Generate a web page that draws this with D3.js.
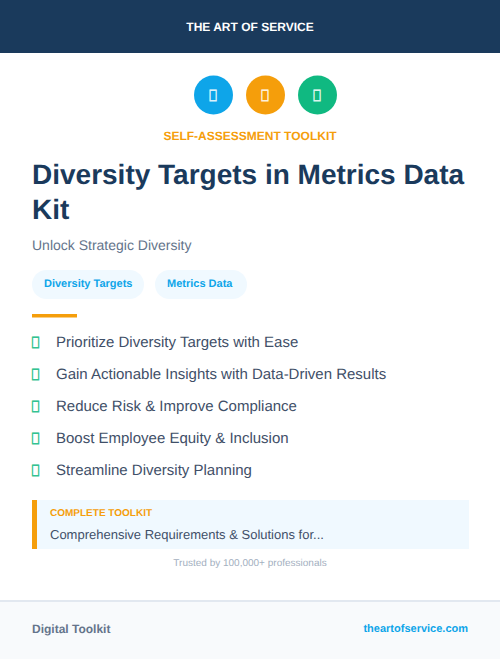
<!DOCTYPE html>
<html><head><meta charset="utf-8">
<script src="https://cdnjs.cloudflare.com/ajax/libs/d3/7.8.5/d3.min.js"></script>
<style>html,body{margin:0;padding:0;background:#fff}svg{display:block}text{font-family:"Liberation Sans",sans-serif;text-rendering:geometricPrecision}</style>
</head><body><div id="c"></div>
<script>
const brand="THE ART OF SERVICE";
const iconColors=["#0ea5e9","#f59e0b","#10b981"];
const iconGlyphs=["\uE123","\uE123","\uE123"];
const kicker="SELF-ASSESSMENT TOOLKIT";
const titleLines=["Diversity Targets in Metrics Data","Kit"];
const subtitle="Unlock Strategic Diversity";
const tags=["Diversity Targets","Metrics Data"];
const tagWidths=[112,92];
const bullets=["Prioritize Diversity Targets with Ease","Gain Actionable Insights with Data-Driven Results","Reduce Risk & Improve Compliance","Boost Employee Equity & Inclusion","Streamline Diversity Planning"];
const svg=d3.select("#c").append("svg").attr("width",500).attr("height",659);
const T=(x,y,s,size,fill,weight,anchor)=>svg.append("text").attr("x",x).attr("y",y).text(s).attr("font-size",size).attr("fill",fill).attr("font-weight",weight||400).attr("text-anchor",anchor||"start");
const R=(x,y,w,h,fill,r)=>svg.append("rect").attr("x",x).attr("y",y).attr("width",w).attr("height",h).attr("fill",fill).attr("rx",r||0);
R(0,0,500,53,"#1a3a5c");
T(250,31,brand,12,"#fff",700,"middle");
const ix=d3.scalePoint().domain(d3.range(3)).range([213.5,317.5]);
svg.selectAll(".ic").data(iconColors).join("circle").attr("cx",(d,i)=>ix(i)).attr("cy",95).attr("r",19.5).attr("fill",d=>d);
svg.selectAll(".ig").data(iconGlyphs).join("text").attr("transform",(d,i)=>`translate(${ix(i)-0.5},100.5) scale(0.8,1.08)`).attr("text-anchor","middle").attr("font-size",15).attr("fill","#fff").attr("stroke","#fff").attr("stroke-width",0.8).attr("opacity",0.85).text(d=>d);
T(250,140,kicker,12,"#f59e0b",700,"middle");
svg.selectAll(".tl").data(titleLines).join("text").attr("x",32).attr("y",(d,i)=>184+i*35).attr("font-size",28).attr("font-weight",700).attr("fill","#1a3a5c").text(d=>d);
T(32,250,subtitle,14,"#64748b");
let tx=32;
tags.forEach((t,i)=>{R(tx,270,tagWidths[i],29,"#f0f9ff",14.5);T(tx+12,287,t,11,"#0ea5e9",700);tx+=tagWidths[i]+11;});
R(32,314,45,3.5,"#f59e0b");
const by=d3.scaleLinear().domain([0,4]).range([347,475]);
svg.selectAll(".bg").data(bullets).join("text").attr("transform",(d,i)=>`translate(31,${by(i)+0.5}) scale(0.8,1.08)`).attr("font-size",15).attr("fill","#10b981").attr("stroke","#10b981").attr("stroke-width",0.8).attr("opacity",0.85).text("\uE123");
svg.selectAll(".bt").data(bullets).join("text").attr("x",56).attr("y",(d,i)=>by(i)).attr("font-size",15).attr("fill","#3f4f68").text(d=>d);
R(32,500,437,49,"#f0f9ff");R(32,500,5,49,"#f59e0b");
T(50,516,"COMPLETE TOOLKIT",10,"#f59e0b",700);
T(50,539,"Comprehensive Requirements & Solutions for...",13,"#3f4f68");
T(250,566,"Trusted by 100,000+ professionals",10,"#a3afc0",400,"middle");
R(0,600,500,59,"#f8fafc");R(0,600,500,2,"#e2e8f0");
T(32,633,"Digital Toolkit",12,"#64748b",700);
T(468,632,"theartofservice.com",11,"#0ea5e9",700,"end");
</script></body></html>
